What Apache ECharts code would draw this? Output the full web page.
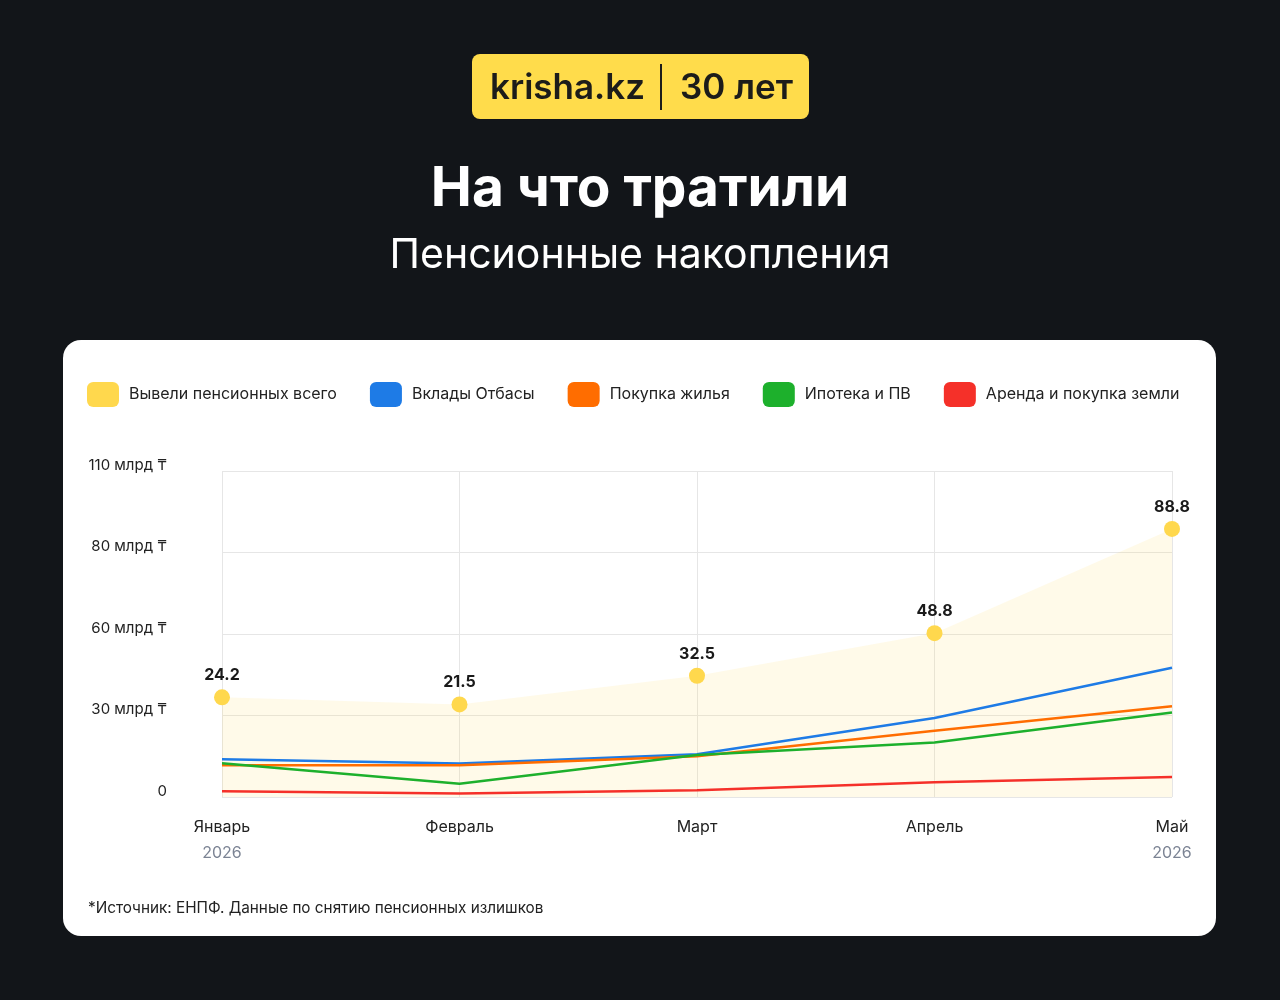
<!DOCTYPE html>
<html>
<head>
<meta charset="utf-8">
<script src="https://cdn.jsdelivr.net/npm/echarts@6/dist/echarts.min.js"></script>
<style>
  html, body { margin: 0; padding: 0; background: #121519; }
  #chart { width: 1280px; height: 1000px; }
</style>
</head>
<body>
<div id="chart"></div>
<script>
// ---- data ----
const months = ['Январь', 'Февраль', 'Март', 'Апрель', 'Май'];
const yearLabels = ['2026', '', '', '', '2026'];
const yTickLabels = ['0', '30 млрд ₸', '60 млрд ₸', '80 млрд ₸', '110 млрд ₸'];
const seriesNames = ['Вывели пенсионных всего', 'Вклады Отбасы', 'Покупка жилья', 'Ипотека и ПВ', 'Аренда и покупка земли'];
const totalWithdrawn = [24.2, 21.5, 32.5, 48.8, 88.8];
const otbasyDeposits = [13.9, 12.3, 15.7, 29.1, 47.6];
const housingPurchase = [11.7, 11.7, 15.0, 24.4, 33.4];
const mortgage = [12.4, 4.9, 15.5, 20.1, 31.1];
const landRent = [2.1, 1.3, 2.5, 5.4, 7.4];

const colors = ['#FFD84D', '#1E7BE6', '#FF6D00', '#1DB02C', '#F53029'];
const FONT = 'Inter, "Noto Sans", sans-serif';

const chart = echarts.init(document.getElementById('chart'), null, { renderer: 'canvas' });

function lineSeries(idx, data) {
  return {
    name: seriesNames[idx],
    type: 'line',
    data: data,
    yAxisIndex: 0,
    symbol: 'none',
    smooth: false,
    color: colors[idx],
    lineStyle: { width: 2.5, color: colors[idx] },
    z: 3 + idx
  };
}

const option = {
  backgroundColor: '#121519',
  animation: false,
  textStyle: { fontFamily: FONT },
  graphic: [
    // badge
    { type: 'rect', left: 472, top: 54, shape: { width: 337, height: 65, r: 8 }, style: { fill: '#FFDC4B' }, z: 1 },
    { type: 'text', left: 490, top: 71, style: { text: 'krisha.kz', font: '600 35px ' + FONT, fill: '#1C1C1A' }, z: 2 },
    { type: 'rect', left: 660, top: 64, shape: { width: 2, height: 46 }, style: { fill: '#1C1C1A' }, z: 2 },
    { type: 'text', left: 680, top: 71, style: { text: '30 лет', font: '600 35px ' + FONT, fill: '#1C1C1A' }, z: 2 },
    // titles
    { type: 'text', x: 640, y: 189, style: { text: 'На что тратили', font: '700 55px ' + FONT, fill: '#FFFFFF', align: 'center', verticalAlign: 'middle' }, z: 2 },
    { type: 'text', x: 640, y: 256, style: { text: 'Пенсионные накопления', font: '400 41px ' + FONT, fill: '#FFFFFF', align: 'center', verticalAlign: 'middle' }, z: 2 },
    // card
    { type: 'rect', left: 63, top: 340, shape: { width: 1153, height: 596, r: 18 }, style: { fill: '#FFFFFF' }, z: -10 },
    // footer
    { type: 'text', left: 88, y: 908, style: { text: '*Источник: ЕНПФ. Данные по снятию пенсионных излишков', font: '400 15.3px ' + FONT, fill: '#222222', verticalAlign: 'middle' }, z: 2 }
  ],
  legend: {
    left: 87,
    top: 382,
    padding: 0,
    itemWidth: 32,
    itemHeight: 25,
    itemGap: 33,
    icon: 'roundRect',
    textStyle: { fontSize: 16, color: '#222222', fontFamily: FONT, padding: [0, 0, 0, 5] },
    data: seriesNames.map((n, i) => ({ name: n, itemStyle: { color: colors[i], borderWidth: 0 } }))
  },
  grid: { left: 222, right: 108, top: 471, height: 326, containLabel: false },
  xAxis: {
    type: 'category',
    data: months,
    boundaryGap: false,
    axisLine: { show: false },
    axisTick: { show: false },
    splitLine: { show: true, lineStyle: { color: '#E6E6E6', width: 1 } },
    axisLabel: {
      margin: 17,
      fontSize: 16,
      color: '#222222',
      lineHeight: 26,
      fontFamily: FONT,
      formatter: (v, i) => yearLabels[i] ? v + '\n{y|' + yearLabels[i] + '}' : v,
      rich: { y: { fontSize: 16, color: '#7C8494', lineHeight: 26, fontFamily: FONT } }
    }
  },
  yAxis: [
    {
      type: 'value',
      min: 0,
      max: 120,
      interval: 30,
      axisLine: { show: false },
      axisTick: { show: false },
      splitLine: { show: true, lineStyle: { color: '#E6E6E6', width: 1 } },
      axisLabel: {
        margin: 55,
        fontSize: 15,
        color: '#222222',
        fontFamily: FONT,
        verticalAlign: 'bottom',
        lineHeight: 12,
        formatter: (v) => yTickLabels[Math.round(v / 30)]
      }
    },
    {
      type: 'value',
      min: -14,
      max: 111,
      show: false,
      splitLine: { show: false }
    }
  ],
  series: [
    {
      name: seriesNames[0],
      type: 'line',
      data: totalWithdrawn,
      yAxisIndex: 1,
      symbol: 'circle',
      symbolSize: 16,
      color: colors[0],
      itemStyle: { color: colors[0] },
      lineStyle: { width: 0, opacity: 0 },
      areaStyle: { color: 'rgba(255, 214, 70, 0.17)', origin: 'start' },
      label: {
        show: true,
        position: 'top',
        distance: 6,
        fontSize: 16,
        fontWeight: 'bold',
        color: '#1A1A1A',
        fontFamily: FONT,
        formatter: (p) => p.value.toFixed(1)
      },
      z: 2
    },
    lineSeries(1, otbasyDeposits),
    lineSeries(2, housingPurchase),
    lineSeries(3, mortgage),
    lineSeries(4, landRent)
  ]
};

chart.setOption(option);
</script>
</body>
</html>
